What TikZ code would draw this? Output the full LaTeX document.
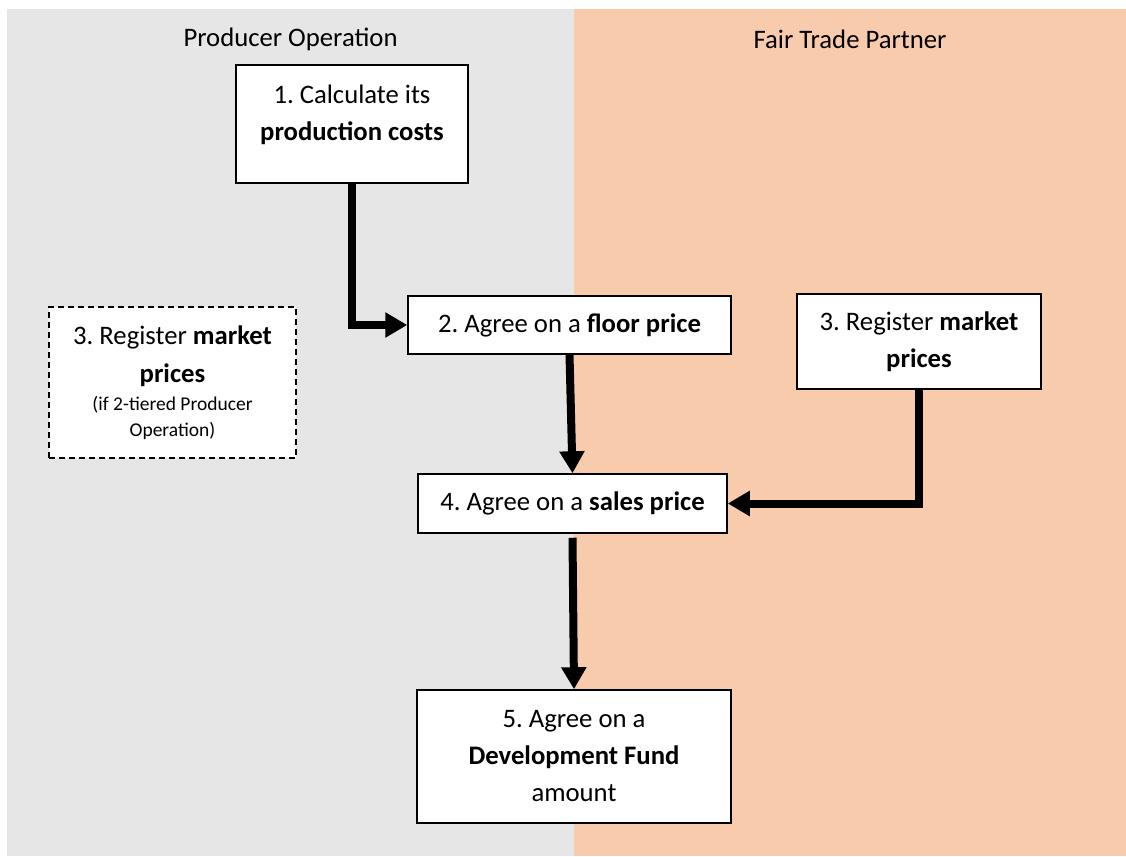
\documentclass[tikz,border=0pt]{standalone}
\usepackage{fontspec}
\setmainfont{Carlito}
\usetikzlibrary{arrows.meta}
\definecolor{graybg}{HTML}{E7E6E6}
\definecolor{peachbg}{HTML}{F8CBAD}
\tikzset{
  box/.style={draw=black, line width=1.5pt, fill=white, inner sep=0pt, align=center,
    font=\frenchspacing\fontsize{26.7}{37}\selectfont},
  dashbox/.style={box, dash pattern=on 6pt off 4pt},
  lanetitle/.style={inner sep=0pt, font=\frenchspacing\fontsize{26.7}{37}\selectfont},
  flow/.style={line width=8pt, line join=miter, -{Triangle[width=24pt,length=22pt]}}
}
\begin{document}
\frenchspacing
\begin{tikzpicture}[x=1pt, y=-1pt]
\useasboundingbox (0,0) rectangle (1126,856);
\fill[graybg] (7,9) rectangle (574,856);
\fill[peachbg] (574,9) rectangle (1126,856);

\node[lanetitle] (t1) at (290.5,39) {Producer Operation};
\node[lanetitle] (t2) at (850,39) {Fair Trade Partner};

\node[box] (b1) at (352,124)
  {\parbox[c][118pt][t]{232pt}{\centering\vspace*{20pt}1. Calculate its\\\textbf{production costs}}};
\node[box, minimum width=323pt, minimum height=58pt] (b2) at (569.5,325)
  {2. Agree on a \textbf{floor price}};
\node[box, minimum width=244pt, minimum height=95pt] (b3) at (919,341.5)
  {3. Register \textbf{market}\\\textbf{prices}};
\node[dashbox, minimum width=247pt, minimum height=151pt] (b3d) at (172.5,382.5)
  {\parbox{247pt}{\centering
   {\fontsize{26.7}{38}\selectfont 3. Register \textbf{market}\\\textbf{prices}\par}\vspace{2pt}
   {\fontsize{19.5}{26}\selectfont (if 2-tiered Producer\\Operation)\par}}};
\node[box, minimum width=309pt, minimum height=59pt] (b4) at (572.5,503.5)
  {4. Agree on a \textbf{sales price}};
\node[box, minimum width=314pt, minimum height=133pt] (b5) at (574,756.5)
  {5. Agree on a\\\textbf{Development Fund}\\amount};

\draw[flow] (b1.south) |- (b2.west);
\draw[flow] (b2.south) -- (b4.north);
\draw[flow] (b3.south) |- (b4.east);
\draw[flow] ([yshift=-4pt]b4.south) -- (b5.north);
\end{tikzpicture}
\end{document}
